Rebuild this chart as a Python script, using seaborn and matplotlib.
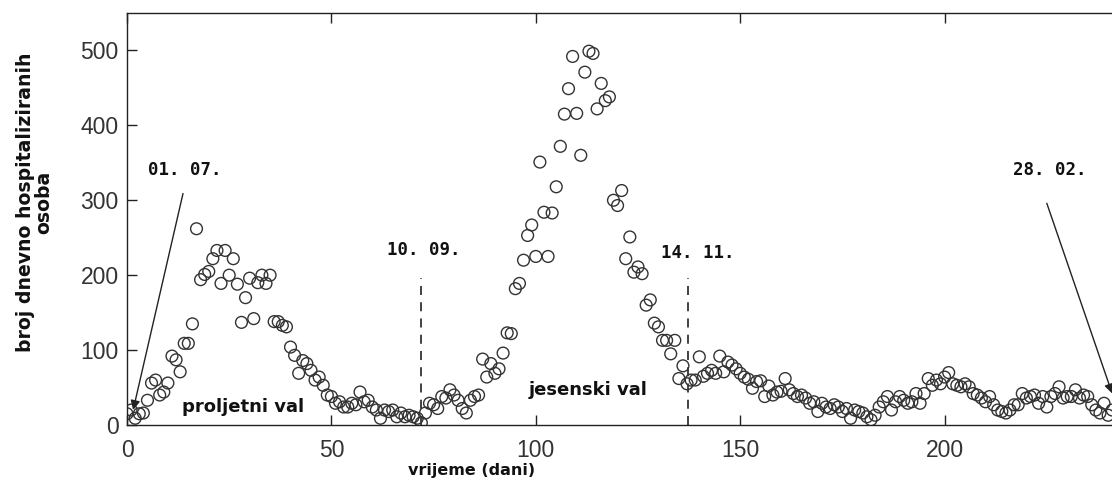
import numpy as np
import pandas as pd
import matplotlib
matplotlib.use("Agg")
import matplotlib.pyplot as plt
import seaborn as sns

# ---- data ----
hospitalised = [
    15, 20, 9, 15, 16, 33, 56, 60, 40, 44,          # 0-9
    56, 92, 87, 71, 109, 109, 135, 262, 194, 201,   # 10-19
    205, 222, 233, 189, 233, 200, 222, 188, 137, 170,  # 20-29
    196, 142, 190, 200, 189, 200, 138, 138, 133, 131,  # 30-39
    104, 93, 69, 86, 82, 73, 60, 64, 53, 40,        # 40-49
    38, 29, 31, 24, 24, 29, 27, 44, 31, 33,         # 50-59
    24, 20, 9, 20, 18, 20, 11, 16, 11, 13,          # 60-69
    11, 9, 3, 16, 29, 27, 22, 38, 36, 47,           # 70-79
    40, 33, 22, 16, 33, 38, 40, 88, 64, 82,         # 80-89
    69, 75, 96, 123, 122, 182, 189, 220, 253, 267,  # 90-99
    225, 351, 284, 225, 283, 318, 372, 415, 449, 492,  # 100-109
    416, 360, 471, 499, 496, 422, 456, 433, 438, 300,  # 110-119
    293, 313, 222, 251, 204, 211, 202, 160, 167, 136,  # 120-129
    131, 113, 113, 95, 113, 62, 79, 55, 60, 60,     # 130-139
    91, 65, 69, 73, 69, 92, 71, 84, 80, 75,         # 140-149
    69, 64, 61, 49, 58, 59, 38, 52, 40, 44,         # 150-159
    45, 62, 47, 42, 38, 40, 36, 29, 31, 18,         # 160-169
    29, 24, 22, 27, 24, 18, 22, 9, 20, 18,          # 170-179
    16, 11, 7, 13, 24, 31, 38, 20, 31, 38,          # 180-189
    33, 29, 31, 42, 29, 42, 62, 53, 60, 55,         # 190-199
    64, 70, 55, 53, 51, 55, 51, 42, 40, 36,         # 200-209
    31, 38, 27, 20, 18, 16, 20, 27, 27, 42,         # 210-219
    36, 38, 40, 29, 38, 24, 38, 42, 51, 36,         # 220-229
    38, 38, 47, 36, 40, 38, 27, 20, 16, 29,         # 230-239
    13, 20,                                          # 240-241
]
days = list(range(len(hospitalised)))

x_ticks = [0, 50, 100, 150, 200]
y_ticks = [0, 100, 200, 300, 400, 500]

date_labels = ["01. 07.", "10. 09.", "14. 11.", "28. 02."]
wave_labels = ["proljetni val", "jesenski val"]
boundary_days = [72, 137.2]

df = pd.DataFrame({"dan": days, "broj": hospitalised})

# ---- figure ----
sns.set_style("white")
plt.rcParams["font.family"] = ["Liberation Sans", "DejaVu Sans"]

fig = plt.figure(figsize=(11.12, 4.9), dpi=100)
ax = fig.add_axes([127 / 1112, 65 / 490, (1149 - 127) / 1112, (425 - 13) / 490])

sns.scatterplot(data=df, x="dan", y="broj", ax=ax, marker="o", s=72,
                facecolors="none", edgecolor="#333333", linewidth=1.0,
                legend=False)

ax.set_xlim(0, 250)
ax.set_ylim(0, 550)
ax.set_xticks(x_ticks)
ax.set_yticks(y_ticks)
ax.set_xlabel("")
ax.set_ylabel("")

for sp in ax.spines.values():
    sp.set_color("#222222")
    sp.set_linewidth(1.0)

ax.tick_params(axis="both", which="both", direction="in", length=7, width=1,
               colors="#222222", labelcolor="#333333", labelsize=16.5,
               top=True, right=True, bottom=True, left=True)
ax.tick_params(axis="x", pad=10)
ax.tick_params(axis="y", pad=6)

# dashed boundaries
for d in boundary_days:
    ax.plot([d, d], [0, 196], linestyle=(0, (5, 4)), color="#333333", linewidth=1.3)

mono = dict(family="DejaVu Sans Mono", fontweight="bold", fontsize=12.5, color="#111111")
bold = dict(family="DejaVu Sans", fontweight="bold", fontsize=13, color="#111111")
arrow = dict(arrowstyle="-|>", color="#222222", lw=1.0, mutation_scale=14,
             shrinkA=0, shrinkB=0)

# arrows
ax.annotate("", xy=(1.5, 20), xytext=(13.7, 309), arrowprops=arrow)
ax.annotate("", xy=(241, 42), xytext=(225, 296), arrowprops=arrow)

# date labels
ax.text(14.2, 340, date_labels[0], ha="center", va="center", **mono)
ax.text(72.5, 234, date_labels[1], ha="center", va="center", **mono)
ax.text(139.5, 230, date_labels[2], ha="center", va="center", **mono)
ax.text(225.7, 340, date_labels[3], ha="center", va="center", **mono)

ax.text(28.4, 24, wave_labels[0], ha="center", va="center", **bold)
ax.text(112.7, 47, wave_labels[1], ha="center", va="center", **bold)

# axis labels
fig.text(35 / 1112, 1 - 202 / 490, "broj dnevno hospitaliziranih\nosoba",
         rotation=90, ha="center", va="center", multialignment="center",
         family="DejaVu Sans", fontweight="bold", fontsize=13.6, color="#111111",
         linespacing=0.95)
fig.text(472 / 1112, 1 - 470 / 490, "vrijeme (dani)", ha="center", va="center",
         family="DejaVu Sans", fontweight="bold", fontsize=11.5, color="#111111")

fig.savefig("out.png", dpi=100)
